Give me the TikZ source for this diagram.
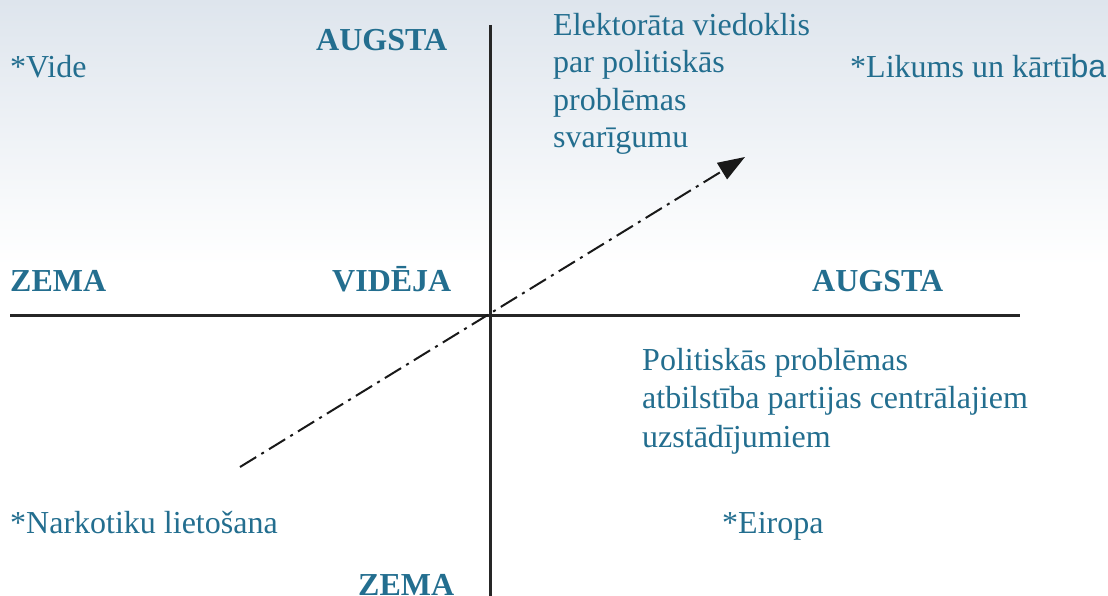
\documentclass[tikz,border=0pt]{standalone}
\usepackage{fontspec}
\setmainfont{Liberation Serif}
\newfontfamily\sansba{Liberation Sans}
\usetikzlibrary{arrows.meta,positioning}
\definecolor{axistext}{RGB}{35,110,143}
\definecolor{skytop}{RGB}{222,229,237}
\tikzset{
    >={Triangle[length=27pt,width=19pt]},
    axis/.style={
        draw=black!85,
        line width=3pt
    },
    issue/.style={
        text=axistext,
        font=\fontsize{32}{37.5}\selectfont,
        inner sep=0pt,
        anchor=base west,
        align=left
    },
    levelname/.style={
        text=axistext,
        font=\bfseries\fontsize{32}{37}\selectfont,
        inner sep=0pt,
        anchor=base west
    },
    trend/.style={
        draw=black!90,
        line width=2pt,
        dash pattern=on 19pt off 6pt on 3pt off 6pt,
        ->
    }
}

\begin{document}
\begin{tikzpicture}[x=1pt,y=-1pt]
    \useasboundingbox (0,0) rectangle (1108,596);
    \shade[top color=skytop, bottom color=white] (0,0) rectangle (1108,265);

    % axes
    \coordinate (origin) at (490,315);
    \coordinate (left end) at (10,315);
    \coordinate (right end) at (1020,315);
    \coordinate (top end) at (490,25);
    \coordinate (bottom end) at (490,596);
    \draw[axis] (left end) -- (right end);
    \draw[axis] (top end) -- (bottom end);

    % dash-dot trend
    \coordinate (trend start) at (240,467);
    \coordinate (trend end) at (745,157);
    \draw[trend] (trend start) -- (trend end);

    % levels
    \node[levelname] (high y) at (316,51) {AUGSTA};
    \node[levelname] (low x) at (10,291) {ZEMA};
    \node[levelname] (mid) at (332,291) {VIDĒJA};
    \node[levelname] (high x) at (812,291) {AUGSTA};
    \node[levelname] (low y) at (358,595) {ZEMA};

    % issues (base = last line)
    \node[issue] (vide) at (10,78) {*Vide};
    \node[issue] (opinion) at (553,148) {Elektorāta viedoklis\\par politiskās\\problēmas\\svarīgumu};
    \node[issue] (order) at (850,78) {*Likums un kārtī{\sansba ba}};
    \node[issue, font=\fontsize{32}{38.5}\selectfont] (fit) at (642,447)
        {Politiskās problēmas\\atbilstība partijas centrālajiem\\uzstādījumiem};
    \node[issue] (drugs) at (10,533) {*Narkotiku lietošana};
    \node[issue] (europe) at (722,533) {*Eiropa};
\end{tikzpicture}
\end{document}
